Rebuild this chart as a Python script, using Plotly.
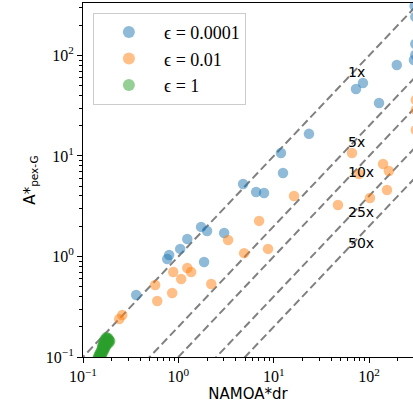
import math
import plotly.graph_objects as go

# ---- data ----
blue_x = [0.361, 0.764, 0.80, 1.045, 1.24, 1.73, 2.0, 1.86, 3.02, 4.77, 6.53, 7.91,
          11.9, 12.5, 23.4, 72.8, 86.1, 127, 195, 300, 305, 305, 305, 295]
blue_y = [0.414, 0.944, 1.035, 1.19, 1.49, 1.97, 1.79, 0.88, 1.71, 5.26, 4.38, 4.28,
          10.7, 6.78, 16.6, 46.4, 53.2, 33.7, 80.4, 311, 242, 130, 101, 90]

orange_x = [0.240, 0.258, 0.571, 0.600, 0.861, 0.883, 1.07, 1.24, 1.36, 2.21, 3.32, 4.89,
            7.02, 8.71, 16.3, 47.1, 66.1, 78.2, 102, 140, 154, 161, 309, 309, 309]
orange_y = [0.239, 0.262, 0.520, 0.361, 0.433, 0.701, 0.597, 0.769, 0.701, 0.532, 1.46, 1.08,
            2.26, 1.19, 4.0, 3.25, 10.7, 6.62, 3.82, 8.32, 4.59, 7.09, 36.1, 28.7, 18.1]

green_x = [0.1481, 0.1517, 0.1554, 0.1592, 0.1631, 0.1671, 0.1712, 0.1754, 0.1797, 0.1840,
           0.1446, 0.1592, 0.1671, 0.1754, 0.1840, 0.1885, 0.1517, 0.1631, 0.1712, 0.1797,
           0.1931, 0.1554, 0.1712, 0.1412, 0.1631, 0.1754, 0.1885, 0.1481, 0.1671, 0.1592,
           0.1517, 0.1554, 0.1592, 0.1631, 0.1671, 0.1712, 0.1754, 0.1797, 0.1840, 0.1797,
           0.1481, 0.1517, 0.1554, 0.1631, 0.1712, 0.1754, 0.1671, 0.1592, 0.1446, 0.1885]
green_y = [0.0977, 0.1047, 0.1121, 0.1201, 0.1257, 0.1317, 0.1379, 0.1443, 0.1511, 0.1546,
           0.1023, 0.1071, 0.1174, 0.1287, 0.1411, 0.1477, 0.1121, 0.1379, 0.1229, 0.1347,
           0.1443, 0.1000, 0.1511, 0.0955, 0.1121, 0.1582, 0.1379, 0.1071, 0.1477, 0.1287,
           0.1000, 0.1047, 0.1121, 0.1174, 0.1229, 0.1287, 0.1347, 0.1411, 0.1477, 0.1546,
           0.1023, 0.1071, 0.1174, 0.1317, 0.1443, 0.1511, 0.1379, 0.1257, 0.0977, 0.1443]

series_names = ["ϵ = 0.0001", "ϵ = 0.01", "ϵ = 1"]
series_colors = ["#1f77b4", "#ff7f0e", "#2ca02c"]

ratios = [1, 5, 10, 25, 50]
ratio_labels = ["1x", "5x", "10x", "25x", "50x"]
label_x = 60

line_x = [0.05, 2000]

major_vals = [0.1, 1, 10, 100]
major_text = ["10<sup>−1</sup>", "10<sup>0</sup>", "10<sup>1</sup>", "10<sup>2</sup>"]
minor_vals = [m * d for d in [0.1, 1, 10, 100] for m in range(2, 10)]

fig = go.Figure()

# reference lines y = x / k
for k in ratios:
    fig.add_trace(go.Scatter(
        x=line_x, y=[v / k for v in line_x], mode="lines",
        line=dict(color="#808080", width=2, dash="8px,4px"),
        showlegend=False, hoverinfo="skip"))

for xs, ys, name, col in [(blue_x, blue_y, series_names[0], series_colors[0]),
                          (orange_x, orange_y, series_names[1], series_colors[1]),
                          (green_x, green_y, series_names[2], series_colors[2])]:
    fig.add_trace(go.Scatter(
        x=xs, y=ys, mode="markers", name=name,
        marker=dict(color=col, size=10.5, opacity=0.5, line=dict(width=0))))

for k, lab in zip(ratios, ratio_labels):
    fig.add_annotation(x=math.log10(label_x), y=math.log10(label_x / k),
                       text=lab, showarrow=False, xanchor="left", yanchor="bottom",
                       xshift=-2, yshift=-4,
                       font=dict(family="DejaVu Sans", size=14, color="black"))

axis_common = dict(
    type="log", showgrid=False, zeroline=False, showline=True, linecolor="black",
    linewidth=1.1, ticks="outside", ticklen=5, tickwidth=1, tickcolor="black",
    tickvals=major_vals, ticktext=major_text, automargin=False,
    tickfont=dict(family="Liberation Serif", size=16, color="black"),
    minor=dict(ticks="outside", ticklen=3, tickwidth=0.8, tickcolor="black",
               tickvals=minor_vals, showgrid=False),
)

fig.update_xaxes(**axis_common, range=[-1, 2.46], mirror=True,
                 title=dict(text="NAMOA*dr", standoff=4,
                            font=dict(family="DejaVu Sans", size=15, color="black")))
fig.update_yaxes(**axis_common, range=[-1, 2.522],
                 title=dict(text="A*<sub>pex-G</sub>", standoff=6,
                            font=dict(family="DejaVu Sans", size=15, color="black")))

fig.update_layout(
    width=413, height=411,
    margin=dict(l=83, r=0, t=3, b=54),
    plot_bgcolor="white", paper_bgcolor="white",
    legend=dict(x=0.03, y=0.972, xanchor="left", yanchor="top",
                bgcolor="rgba(255,255,255,0.8)", bordercolor="#cccccc", borderwidth=1,
                font=dict(family="Liberation Serif", size=18, color="black"),
                itemsizing="constant", itemwidth=60),
)

fig.write_html("out.html", config={"displayModeBar": False},
               post_script="document.body.style.margin='0';document.body.style.padding='0';")
